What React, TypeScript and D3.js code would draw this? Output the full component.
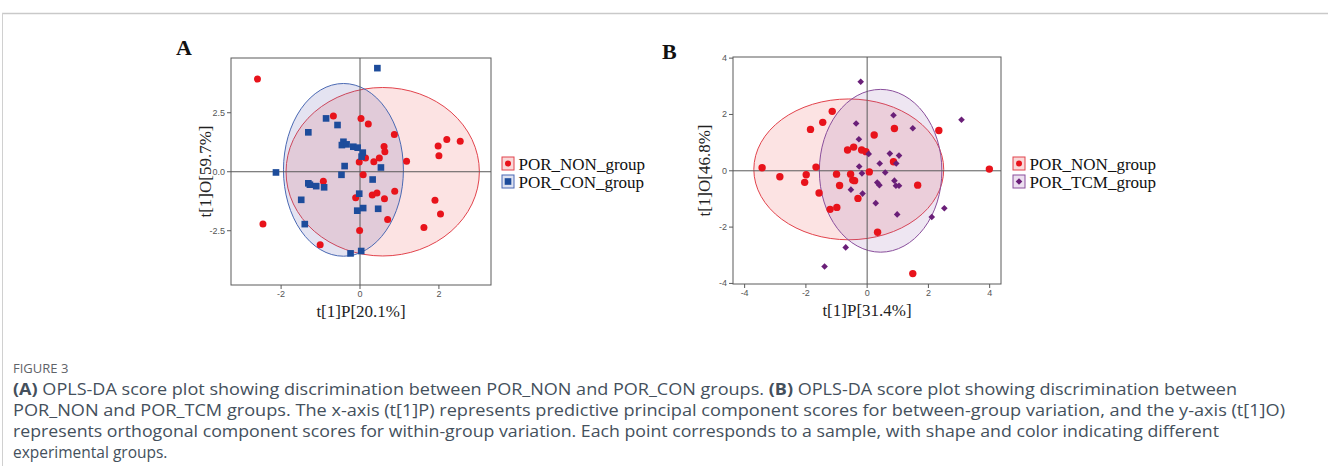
import React from 'react';
import * as d3 from 'd3';

// panel A: POR_NON (red circles) vs POR_CON (blue squares)
const nonA: [number, number][] = [
  [-2.6, 3.93], [-0.675, 2.36], [0.025, 2.26], [0.21, 2.02], [0.87, 1.58], [1.98, 1.09],
  [2.2, 1.37], [2.54, 1.29], [2.0, 0.68], [0.61, 1.07], [0.63, 0.85], [0.49, 0.58],
  [0.35, 0.42], [0.14, 0.58], [-0.02, 0.41], [1.18, 0.44], [0.08, -0.13], [-0.93, -0.4],
  [-0.11, -1.1], [0.31, -0.99], [0.43, -0.9], [0.62, -1.14], [0.88, -0.83], [1.9, -1.21],
  [2.04, -1.79], [1.62, -2.36], [0.7, -2.02], [-0.01, -2.49], [-1.01, -3.09], [-2.46, -2.22],
];
const conA: [number, number][] = [
  [0.44, 4.39], [-0.86, 2.26], [-0.57, 1.98], [-1.31, 1.67], [-0.42, 1.27], [-0.46, 1.13],
  [-0.34, 1.16], [-0.17, 1.06], [-0.06, 1.02], [0.07, 0.81], [0.04, 0.64], [-0.39, 0.24],
  [0.53, 0.18], [-2.13, -0.03], [-0.47, -0.13], [0.32, -0.33], [-1.31, -0.49], [-1.27, -0.55],
  [-1.11, -0.61], [-0.91, -0.66], [-1.49, -1.19], [-0.02, -0.93], [0.08, -1.54], [-0.07, -1.65],
  [0.46, -1.57], [-1.4, -2.22], [-0.24, -3.46], [0.03, -3.36],
];

// panel B: POR_NON (red circles) vs POR_TCM (purple diamonds)
const nonB: [number, number][] = [
  [-1.14, 2.11], [-1.45, 1.72], [-1.85, 1.47], [0.23, 1.27], [0.89, 1.5], [2.34, 1.43],
  [-0.44, 0.84], [-0.64, 0.74], [-0.18, 0.74], [-0.04, 0.68], [0.86, 0.32], [-3.43, 0.11],
  [-1.67, 0.13], [3.99, 0.06], [0.07, -0.04], [-2.85, -0.21], [-1.99, -0.14], [-2.04, -0.41],
  [-1.0, -0.12], [-0.54, -0.12], [-0.9, -0.52], [-0.47, -0.33], [-0.41, -0.35], [1.65, -0.51],
  [-1.57, -0.79], [-0.3, -0.98], [-0.99, -1.3], [-1.21, -1.37], [0.34, -2.18], [1.49, -3.65],
];
const tcmB: [number, number][] = [
  [-0.21, 3.16], [0.86, 1.97], [-0.36, 1.68], [1.49, 1.51], [3.08, 1.81], [-0.27, 1.12],
  [0.05, 0.6], [0.74, 0.61], [1.04, 0.54], [0.95, 0.26], [0.41, 0.26], [-0.26, 0.15],
  [0.59, -0.06], [-0.17, -0.09], [-0.53, -0.67], [-0.15, -0.81], [0.33, -0.42], [0.4, -0.51],
  [0.89, -0.35], [0.94, -0.53], [1.04, -0.53], [0.28, -1.15], [0.98, -1.55], [2.11, -1.64],
  [2.52, -1.33], [-0.7, -2.72], [-1.39, -3.4],
];

// confidence ellipses: [cx, cy, rx, ry]
const ellNonA = [0.575, 0, 2.45, 3.57];
const ellConA = [-0.42, 0.08, 1.52, 3.66];
const ellNonB = [-0.6, 0.05, 3.1, 2.5];
const ellTcmB = [0.44, 0, 2.0, 2.89];

const ticksAx = [-2, 0, 2];
const ticksAy = [-2.5, 0, 2.5];
const ticksBx = [-4, -2, 0, 2, 4];
const ticksBy = [-4, -2, 0, 2, 4];

const captionLines = [
  [['(A)', true], [' OPLS-DA score plot showing discrimination between POR_NON and POR_CON groups. ', false], ['(B)', true], [' OPLS-DA score plot showing discrimination between', false]],
  [['POR_NON and POR_TCM groups. The x-axis (t[1]P) represents predictive principal component scores for between-group variation, and the y-axis (t[1]O)', false]],
  [['represents orthogonal component scores for within-group variation. Each point corresponds to a sample, with shape and color indicating different', false]],
  [['experimental groups.', false]],
] as [string, boolean][][];
const captionWidths = [1224, 1272, 1206, 0];

const RED = '#e8131b';
const BLUE = '#1d4c9b';
const PURPLE = '#6a1f78';
const serif = "'Liberation Serif', 'Times New Roman', serif";
const sans = "'Liberation Sans', Arial, sans-serif";

type Ell = number[];
type Group = { pts: [number, number][]; shape: 'circle' | 'square' | 'diamond'; color: string; ell: Ell; stroke: string; fill: string; boxFill: string; name: string };

const squarePath = d3.symbol(d3.symbolSquare, 44)()!;
const diamondPath = d3.symbol(d3.symbolSquare, 22)()!;

function Marker({ shape, color, x, y, r }: { shape: string; color: string; x: number; y: number; r: number }) {
  if (shape === 'circle') return <circle cx={x} cy={y} r={r} fill={color} />;
  if (shape === 'square') return <path d={squarePath} transform={`translate(${x},${y})`} fill={color} />;
  return <path d={diamondPath} transform={`translate(${x},${y}) rotate(45)`} fill={color} />;
}

function Panel(props: {
  left: number; top: number; right: number; bottom: number;
  xDom: [number, number]; yDom: [number, number];
  xTicks: number[]; yTicks: number[]; yFmt: (d: number) => string;
  groups: Group[]; letter: string; letterX: number; letterY: number;
  xTitle: string; yTitle: string; yTitleX: number; legendX: number;
}) {
  const { left, top, right, bottom } = props;
  const x = d3.scaleLinear().domain(props.xDom).range([left, right]);
  const y = d3.scaleLinear().domain(props.yDom).range([bottom, top]);
  const r = props.letter === 'B' ? 3.7 : 3.5;
  return (
    <g>
      <text x={props.letterX} y={props.letterY} fontFamily={serif} fontWeight="bold" fontSize={22} fill="#111">{props.letter}</text>
      {props.groups.map((g, i) => (
        <ellipse key={'e' + i} cx={x(g.ell[0])} cy={y(g.ell[1])}
          rx={x(g.ell[0] + g.ell[2]) - x(g.ell[0])} ry={y(g.ell[1]) - y(g.ell[1] + g.ell[3])}
          fill={g.fill} stroke={g.stroke} strokeWidth={1} />
      ))}
      <rect x={left} y={top} width={right - left} height={bottom - top} fill="none" stroke="#5a5a5a" strokeWidth={1} />
      <line x1={x(0)} x2={x(0)} y1={top} y2={bottom} stroke="#5a5a5a" strokeWidth={1} />
      <line x1={left} x2={right} y1={y(0)} y2={y(0)} stroke="#5a5a5a" strokeWidth={1} />
      {props.xTicks.map(t => (
        <g key={'x' + t}>
          <line x1={x(t)} x2={x(t)} y1={bottom} y2={bottom + 4} stroke="#5a5a5a" />
          <text x={x(t)} y={bottom + 12} textAnchor="middle" fontFamily={sans} fontSize={9} fill="#555">{String(t)}</text>
        </g>
      ))}
      {props.yTicks.map(t => (
        <g key={'y' + t}>
          <line x1={left - 4} x2={left} y1={y(t)} y2={y(t)} stroke="#5a5a5a" />
          <text x={left - 6} y={y(t) + 3} textAnchor="end" fontFamily={sans} fontSize={9} fill="#555">{props.yFmt(t)}</text>
        </g>
      ))}
      {props.groups.map((g, i) => (
        <g key={'p' + i}>
          {g.pts.map((p, j) => (
            <Marker key={j} shape={g.shape} color={g.color} x={x(p[0])} y={y(p[1])} r={r} />
          ))}
        </g>
      ))}
      <text x={(left + right) / 2} y={bottom + 32} textAnchor="middle" fontFamily={serif} fontSize={17} fill="#222">{props.xTitle}</text>
      <text transform={`translate(${props.yTitleX},${(top + bottom) / 2}) rotate(-90)`} textAnchor="middle" fontFamily={serif} fontSize={17} fill="#222">{props.yTitle}</text>
      {props.groups.map((g, i) => {
        const ly = 157 + i * 18;
        const lx = props.legendX;
        return (
          <g key={'l' + i}>
            <rect x={lx} y={ly} width={12} height={13} fill={g.boxFill} stroke={g.stroke} strokeWidth={1} />
            <Marker shape={g.shape} color={g.color} x={lx + 6} y={ly + 6.5} r={3} />
            <text x={lx + 16.5} y={ly + 13} fontFamily={serif} fontSize={17} fill="#111">{g.name}</text>
          </g>
        );
      })}
    </g>
  );
}

export default function App() {
  const groupsA: Group[] = [
    { pts: nonA, shape: 'circle', color: RED, ell: ellNonA, stroke: '#e2434c', fill: 'rgba(236,90,90,0.17)', boxFill: '#f9d9d9', name: 'POR_NON_group' },
    { pts: conA, shape: 'square', color: BLUE, ell: ellConA, stroke: '#4a69b3', fill: 'rgba(96,90,170,0.17)', boxFill: '#dee2f1', name: 'POR_CON_group' },
  ];
  const groupsB: Group[] = [
    { pts: nonB, shape: 'circle', color: RED, ell: ellNonB, stroke: '#e2434c', fill: 'rgba(236,90,90,0.17)', boxFill: '#f9d9d9', name: 'POR_NON_group' },
    { pts: tcmB, shape: 'diamond', color: PURPLE, ell: ellTcmB, stroke: '#8a4f9c', fill: 'rgba(140,90,170,0.15)', boxFill: '#ece0f0', name: 'POR_TCM_group' },
  ];
  return (
    <svg width={1328} height={466} style={{ position: 'absolute', left: 0, top: 0, background: '#fff' }}>
      <line x1={2} x2={1328} y1={13.5} y2={13.5} stroke="#c9c9c9" strokeWidth={1.5} />
      <line x1={2.5} x2={2.5} y1={13} y2={466} stroke="#d0d0d0" strokeWidth={1} />
      <Panel left={231} top={58} right={491} bottom={285} xDom={[-3.27, 3.32]} yDom={[-4.8, 4.82]}
        xTicks={ticksAx} yTicks={ticksAy} yFmt={d => d.toFixed(1)} groups={groupsA}
        letter="A" letterX={176} letterY={55} xTitle="t[1]P[20.1%]" yTitle="t[1]O[59.7%]" yTitleX={211} legendX={502} />
      <Panel left={733} top={57} right={1001} bottom={284} xDom={[-4.38, 4.37]} yDom={[-4.02, 4.04]}
        xTicks={ticksBx} yTicks={ticksBy} yFmt={d => String(d)} groups={groupsB}
        letter="B" letterX={662} letterY={59} xTitle="t[1]P[31.4%]" yTitle="t[1]O[46.8%]" yTitleX={710} legendX={1013} />
      <text x={13} y={373} fontFamily="'Open Sans', sans-serif" fontSize={13} fill="#5f6368">FIGURE 3</text>
      {captionLines.map((line, i) => (
        <text key={i} x={13} y={395 + i * 21} fontFamily="'Open Sans', sans-serif" fontSize={15.5} fill="#44505c"
          {...(captionWidths[i] ? { textLength: captionWidths[i], lengthAdjust: 'spacingAndGlyphs' } : {})}>
          {line.map((s, j) => (
            <tspan key={j} fontWeight={s[1] ? 'bold' : 'normal'}>{s[0]}</tspan>
          ))}
        </text>
      ))}
    </svg>
  );
}
